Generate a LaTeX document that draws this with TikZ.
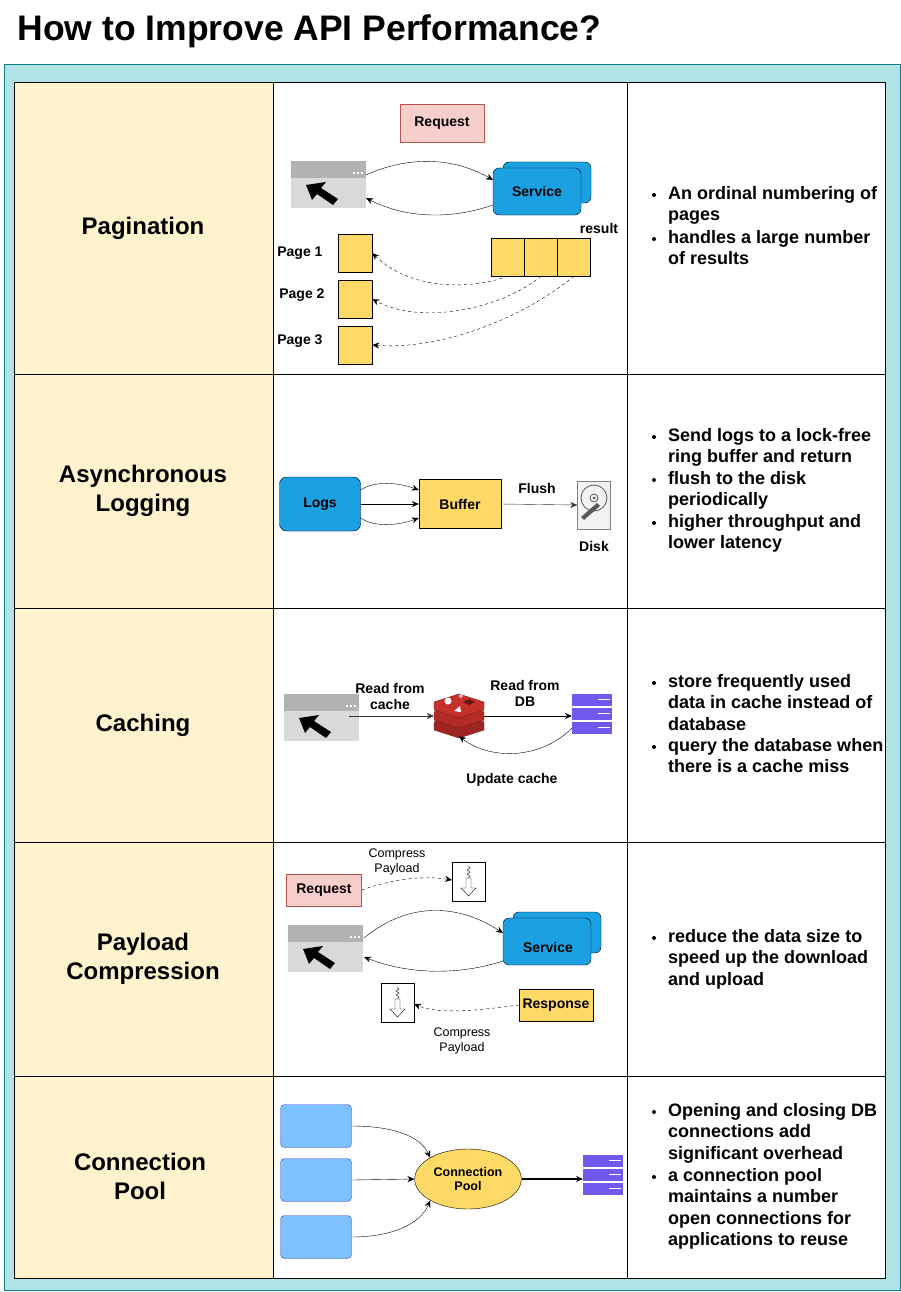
\documentclass[tikz,border=0pt]{standalone}
\usepackage{fontspec}
\setmainfont{Liberation Sans}
\usetikzlibrary{arrows.meta,shapes.geometric}
\definecolor{teal1}{HTML}{B0E3E6}
\definecolor{teal2}{HTML}{0E8088}
\definecolor{cream}{HTML}{FFF2CC}
\definecolor{blueS}{HTML}{1BA1E2}
\definecolor{yel}{HTML}{FFD966}
\definecolor{pinkR}{HTML}{F8CECC}
\definecolor{redR}{HTML}{B85450}
\definecolor{purp}{HTML}{7159F0}
\definecolor{lblue}{HTML}{7EC1FF}
\definecolor{redis}{HTML}{C6302B}
\begin{document}
\begin{tikzpicture}[x=1pt,y=-1pt,
  lab/.style={font=\fontsize{14}{16}\selectfont\bfseries,align=center},
  small/.style={font=\fontsize{12.5}{14.5}\selectfont,align=center},
  row/.style={font=\fontsize{24}{29}\selectfont\bfseries,align=center},
  bul/.style={font=\fontsize{18}{21.5}\selectfont\bfseries,align=left,anchor=north west,inner sep=0pt},
  arr/.style={-{Stealth[length=7pt,width=6pt]},black},
  darr/.style={arr,dashed},
  page/.style={draw,fill=yel,minimum width=34pt,minimum height=38pt,inner sep=0pt},
  browser/.pic={
    \fill[gray!30] (0,0) rectangle (75,47);
    \fill[gray!60] (0,0) rectangle (75,17);
    \foreach \d in {62,66,70} \fill[white] (\d,11) rectangle +(2,2);
    \fill[black] (15,24) -- (35,21) -- (30,27) -- (47,38) -- (42,44) -- (26,33) -- (21,39) -- cycle;
  },
  service/.pic={
    \draw[fill=blueS,rounded corners=6pt] (10,0) rectangle (98,41);
    \draw[fill=blueS,rounded corners=6pt] (0,6) rectangle (88,53);
  },
  dbicon/.pic={
    \foreach \i in {0,1,2}{
      \fill[purp] (0,\i*14) rectangle (40,\i*14+12);
      \draw[white,line width=1pt] (26,\i*14+5) -- (38,\i*14+5);}
  },
  compress/.pic={
    \draw[thick,fill=white] (0,0) rectangle (33,39);
    \draw (16.5,4) -- (18,6) -- (15,8) -- (18,10) -- (15,12) -- (18,14) -- (16.5,16);
    \draw[fill=white] (14,16) -- (19,16) -- (19,26) -- (24,26) -- (16.5,34) -- (9,26) -- (14,26) -- cycle;
  }]
\useasboundingbox (0,0) rectangle (901,1292);
\fill[white] (0,0) rectangle (901,1292);
\node[anchor=west,font=\fontsize{35.5}{40}\selectfont\bfseries] (title) at (14,31) {How to Improve API Performance?};
\draw[teal2,fill=teal1] (4,64) rectangle (900,1290);
% table
\fill[cream] (14,82) rectangle (273,1278);
\fill[white] (273,82) rectangle (885,1278);
\draw (14,82) rectangle (885,1278);
\draw (273,82) -- (273,1278) (627,82) -- (627,1278);
\foreach \y in {374,608,842,1076} \draw (14,\y) -- (885,\y);
\node[row] (r1) at (143,228) {Pagination};
\node[row] (r2) at (143,491) {Asynchronous\\Logging};
\node[row] (r3) at (143,725) {Caching};
\node[row] (r4) at (143,959) {Payload\\Compression};
\node[row] (r5) at (140,1176) {Connection\\Pool};

% ---------- Pagination
\node[draw=redR,fill=pinkR,minimum width=84pt,minimum height=38pt,lab] (req1) at (442,123) {Request};
\pic at (291,161) {browser};
\coordinate (b1a) at (366,175); \coordinate (b1b) at (366,198);
\pic at (493,162) {service};
\node[lab] (svc1) at (537,191) {Service};
\coordinate (s1a) at (493,180); \coordinate (s1b) at (493,205);
\draw[arr] (b1a) .. controls (410,155) and (455,158) .. (s1a);
\draw[arr] (s1b) .. controls (450,220) and (405,218) .. (b1b);
\node[lab] (res) at (599,228) {result};
\foreach \i/\x in {1/508,2/541,3/574}
  \node[draw,fill=yel,minimum width=33pt,minimum height=38pt,inner sep=0pt] (c\i) at (\x,257) {};
\node[page] (p1) at (355,253) {};
\node[page] (p2) at (355,299) {};
\node[page] (p3) at (355,345) {};
\node[lab,anchor=east] (pl1) at (326,253) {Page 1};
\node[lab,anchor=east] (pl2) at (328,295) {Page 2};
\node[lab,anchor=east] (pl3) at (326,341) {Page 3};
\draw[darr] (c1.south) .. controls (470,290) and (410,290) .. (p1.east);
\draw[darr] (c2.south) .. controls (500,310) and (420,325) .. (p2.east);
\draw[darr] (c3.south) .. controls (520,320) and (440,350) .. (p3.east);

% ---------- Logging
\node[draw,fill=blueS,rounded corners=7pt,minimum width=81pt,minimum height=54pt,lab] (logs) at (320,504) {Logs};
\node[draw,fill=yel,minimum width=82pt,minimum height=49pt,lab] (buf) at (460,504) {Buffer};
\draw[arr] ([yshift=14pt]logs.east) .. controls (375,480) and (400,483) .. ([yshift=14pt]buf.west);
\draw[arr] (logs.east) -- (buf.west);
\draw[arr] ([yshift=-14pt]logs.east) .. controls (375,528) and (400,525) .. ([yshift=-14pt]buf.west);
\node[draw=gray,fill=gray!10,minimum width=33pt,minimum height=48pt,inner sep=0pt] (disk) at (594,505) {};
\draw[gray!70!black,thick] (594,498) circle (13pt) circle (4pt);
\fill[gray!70!black] (594,498) circle (1.5pt);
\fill[gray!70!black] (597,503) -- (600,506) -- (584,520) -- (581,517) -- cycle;
\draw[arr,gray!40!black] (buf.east) -- (disk.west);
\node[lab] (fl) at (537,488) {Flush};
\node[lab] (dl) at (594,546) {Disk};

% ---------- Caching
\pic at (284,694) {browser};
\coordinate (b3) at (349,716);
\node[inner sep=0pt,minimum width=50pt,minimum height=40pt] (redisn) at (459,716) {};
\foreach \dy/\c in {24/redis!80!black,14/redis!90!black,4/redis}
  \draw[fill=\c,draw=redis!60!black] (434,698+\dy) -- (459,690+\dy) -- (484,698+\dy) -- (484,706+\dy) -- (459,714+\dy) -- (434,706+\dy) -- cycle;
\fill[white] (448,701) circle (3.5pt);
\fill[white] (454,711) -- (460,706) -- (461,712) -- cycle;
\fill[redis!50!black] (463,702) -- (469,699) -- (475,702) -- (469,705) -- cycle;
\node[white,font=\bfseries\small] at (461,697) {+};
\pic at (572,694) {dbicon};
\coordinate (db3a) at (572,716); \coordinate (db3b) at (572,728);
\draw[arr,gray!40!black] (b3) -- (redisn.west);
\draw[arr] (redisn.east) -- (db3a);
\draw[arr] (db3b) .. controls (540,760) and (490,760) .. (redisn.south);
\node[lab] (rc) at (390,696) {Read from\\cache};
\node[lab] (rd) at (525,693) {Read from\\DB};
\node[lab] (uc) at (512,780) {Update cache};

% ---------- Compression
\node[draw=redR,fill=pinkR,minimum width=75pt,minimum height=32pt,lab] (req4) at (324,890) {Request};
\pic at (452,862) {compress};
\coordinate (cp1) at (452,880);
\draw[darr] (req4.east) .. controls (390,880) and (420,875) .. (cp1);
\node[small] (cpl1) at (397,862) {Compress\\Payload};
\pic at (288,925) {browser};
\pic at (503,912) {service};
\node[lab] (svc4) at (548,947) {Service};
\draw[arr] (364,938) .. controls (410,900) and (460,905) .. (503,933);
\draw[arr] (503,961) .. controls (460,975) and (410,975) .. (364,957);
\node[draw,fill=yel,minimum width=74pt,minimum height=32pt,lab] (resp) at (556,1005) {Response};
\pic at (381,983) {compress};
\coordinate (cp2) at (414,1004);
\draw[darr] (resp.west) .. controls (480,1010) and (440,1015) .. (cp2);
\node[small] (cpl2) at (462,1041) {Compress\\Payload};

% ---------- Connection pool
\foreach \i/\y in {1/1126,2/1180,3/1237}
  \node[draw=blue!50!gray,fill=lblue,rounded corners=4pt,minimum width=71pt,minimum height=43pt] (a\i) at (316,\y) {};
\node[ellipse,draw,fill=yel,minimum width=99pt,minimum height=60pt,font=\fontsize{12.5}{14.5}\selectfont\bfseries,align=center] (pool) at (468,1179) {Connection\\Pool};
\pic at (583,1155) {dbicon};
\coordinate (db5) at (583,1179);
\draw[arr] (a1.east) .. controls (390,1126) and (420,1135) .. (pool.north west);
\draw[arr] (a2.east) -- (pool.west);
\draw[arr] (a3.east) .. controls (390,1237) and (420,1225) .. (pool.south west);
\draw[arr,line width=1.5pt] (pool.east) -- (db5);

% ---------- bullets
\newcommand\bl[3]{\fill (654,#1+11) circle (2pt); \node[bul] (#3) at (668,#1+2) {#2};}
\bl{184}{An ordinal numbering of\\pages}{t1a}
\bl{228}{handles a large number\\of results}{t1b}
\bl{426}{Send logs to a lock-free\\ring buffer and return}{t2a}
\bl{469}{flush to the disk\\periodically}{t2b}
\bl{512}{higher throughput and\\lower latency}{t2c}
\bl{672}{store frequently used\\data in cache instead of\\database}{t3a}
\bl{736}{query the database when\\there is a cache miss}{t3b}
\bl{927}{reduce the data size to\\speed up the download\\and upload}{t4a}
\bl{1101}{Opening and closing DB\\connections add\\significant overhead}{t5a}
\bl{1166}{a connection pool\\maintains a number\\open connections for\\applications to reuse}{t5b}
\end{tikzpicture}
\end{document}
